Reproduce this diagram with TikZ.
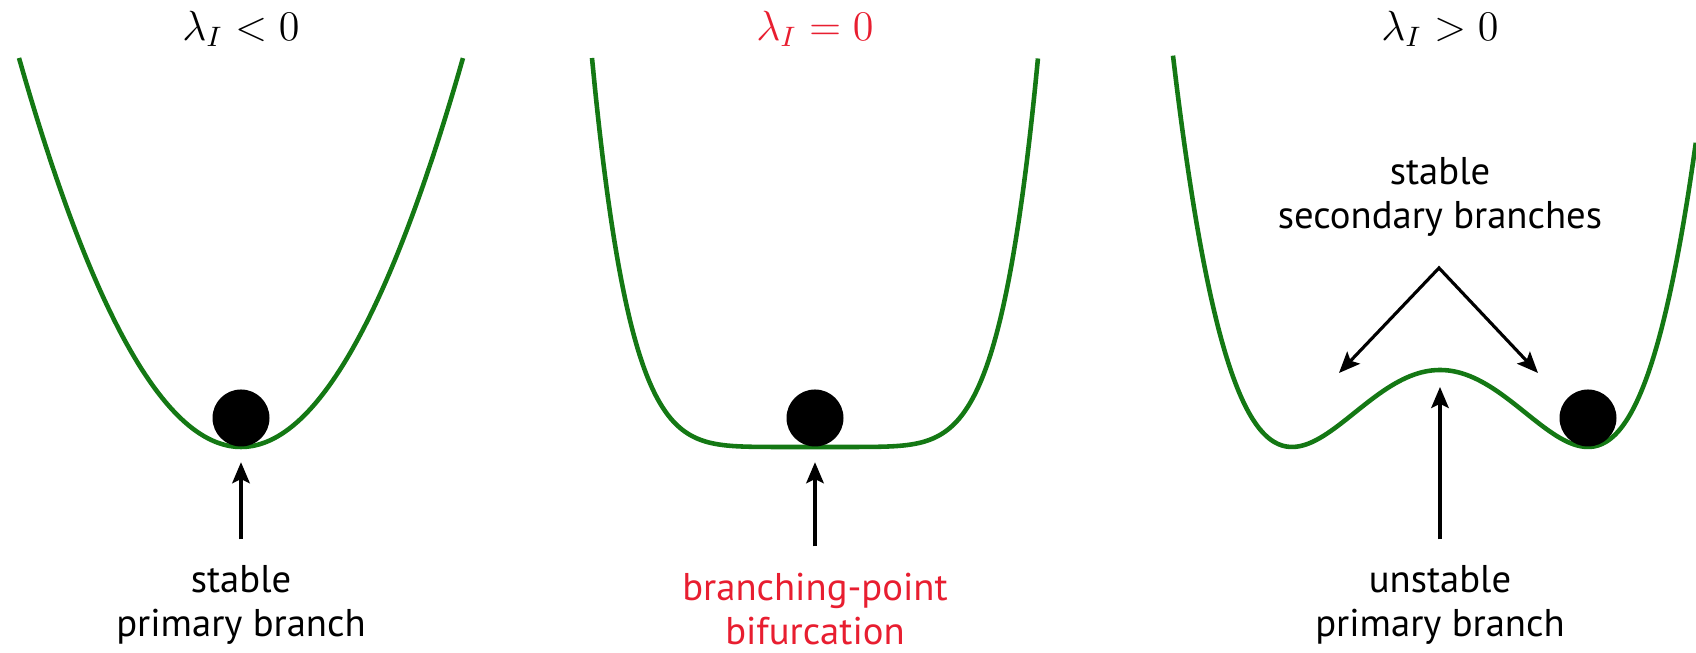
\documentclass[tikz,border=0pt]{standalone}
\usepackage{fontspec}
\setsansfont{PT Sans}
\usetikzlibrary{arrows.meta}

\definecolor{wellgreen}{RGB}{20,120,20}
\definecolor{bifred}{RGB}{232,30,48}

\tikzset{
  well/.style={draw=wellgreen, line width=1.3pt, line join=round},
  ball/.style={circle, fill=black, minimum size=5.7mm, inner sep=0pt},
  arr/.style={-{Stealth[length=6pt,width=5pt,inset=1.2pt]}, line width=0.9pt},
  vee/.style={{Stealth[length=6pt,width=5pt,inset=1.2pt]}-{Stealth[length=6pt,width=5pt,inset=1.2pt]}, line width=0.9pt},
  lab/.style={font=\sffamily\fontsize{11}{12.6}\selectfont, align=center, inner sep=1pt},
  ttl/.style={font=\fontsize{11.5}{14}\selectfont}
}

\begin{document}
\begin{tikzpicture}
    \useasboundingbox (0,0) rectangle (16.96,6.53);

    % lambda < 0
    \node[ttl] (t1) at (2.41,6.24) {$\lambda_I < 0$};
    \draw[well] plot[domain=-2.22:2.22, samples=80, smooth] ({2.41+\x},{2.06+3.89*(\x/2.22)*(\x/2.22)});
    \node[ball] (b1) at (2.41,2.35) {};
    \node[lab, anchor=south] (l1) at (2.41,0.04) {stable\\primary branch};
    \draw[arr, shorten <=0.22cm, shorten >=0.15cm] (l1) -- (b1);

    % lambda = 0
    \node[ttl, text=bifred] (t2) at (8.15,6.24) {$\lambda_I = 0$};
    \draw[well] plot[domain=-2.23:2.23, samples=120, smooth] ({8.15+\x},{2.06+3.89*((\x/2.23)*(\x/2.23))^3});
    \node[ball] (b2) at (8.15,2.35) {};
    \node[lab, anchor=south, text=bifred] (l2) at (8.15,0.04) {branching-point\\bifurcation};
    \draw[arr, shorten <=0.22cm, shorten >=0.15cm] (l2) -- (b2);

    % lambda > 0
    \node[ttl] (t3) at (14.40,6.24) {$\lambda_I > 0$};
    \draw[well] plot[domain=-2.67:2.56, samples=140, smooth] ({14.40+\x},{2.06+0.77*((\x/1.48)*(\x/1.48)-1)*((\x/1.48)*(\x/1.48)-1)});
    \node[ball] (b3) at (15.88,2.35) {};
    \node[lab] (sec) at (14.40,4.56) {stable\\secondary branches};
    \coordinate (apex) at (14.39,3.85);
    \coordinate (wl) at (13.39,2.80);
    \coordinate (wr) at (15.38,2.80);
    \draw[vee] (wl) -- (apex) -- (wr);
    \node[lab, anchor=south] (l3) at (14.40,0.04) {unstable\\primary branch};
    \coordinate (hump) at (14.40,2.83);
    \draw[arr, shorten <=0.22cm, shorten >=0.17cm] (l3) -- (hump);
\end{tikzpicture}
\end{document}
